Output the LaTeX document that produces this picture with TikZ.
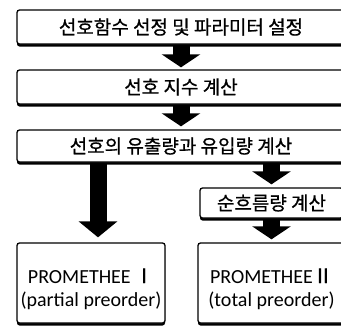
\documentclass[tikz,border=0pt]{standalone}
\usepackage{fontspec}
\setmainfont{Noto Sans CJK KR}[FakeBold=0.8]
\newfontfamily\latinfont{Carlito}
\usetikzlibrary{arrows.meta,shadows}

\newcommand{\numeral}[1]{{\normalfont #1}}

\begin{document}
\begin{tikzpicture}[x=1pt,y=-1pt,
    box/.style={draw, line width=1.3pt, rounded corners=2.5pt, fill=white,
        drop shadow={shadow xshift=0pt, shadow yshift=-2.5pt, fill=black, opacity=1},
        font=\fontsize{19}{21}\selectfont, inner sep=0pt},
    result/.style={box, font=\latinfont\fontsize{20}{23}\selectfont},
    flow/.style={line width=17pt, -{Triangle[width=38pt,length=13pt]}, shorten >=3pt}]

    \useasboundingbox (0,0) rectangle (341,327);
    \clip (0,0) rectangle (341,327);

    \node[box, minimum width=328pt, minimum height=34pt] (pref) at (181,27) {선호함수 선정 및 파라미터 설정};
    \node[box, minimum width=328pt, minimum height=34pt] (index) at (181,87) {선호 지수 계산};
    \node[box, minimum width=328pt, minimum height=32pt] (flows) at (181,146) {선호의 유출량과 유입량 계산};
    \node[box, minimum width=143pt, minimum height=30pt] (net) at (271.5,203) {순흐름량 계산};

    \node[result, minimum width=148pt, minimum height=80pt] (one) at (91,283)
        {\raisebox{0pt}[0pt][0pt]{\begin{tabular}[t]{@{}c@{}}PROMETHEE\,\numeral{Ⅰ}\\(partial preorder)\end{tabular}}};
    \node[result, minimum width=147pt, minimum height=80pt] (two) at (271.5,283)
        {\raisebox{0pt}[0pt][0pt]{\begin{tabular}[t]{@{}c@{}}PROMETHEE\numeral{Ⅱ}\\(total preorder)\end{tabular}}};

    \draw[flow, shorten >=2pt] (pref.south) -- (index.north);
    \draw[flow] (index.south) -- (flows.north);
    \draw[flow, shorten >=5pt, -{Triangle[width=38pt,length=16pt]}] ([xshift=7pt]one.north |- flows.south) -- ([xshift=7pt]one.north);
    \draw[flow] (net.north |- flows.south) -- (net.north);
    \draw[flow] (net.south) -- (two.north);

\end{tikzpicture}
\end{document}
